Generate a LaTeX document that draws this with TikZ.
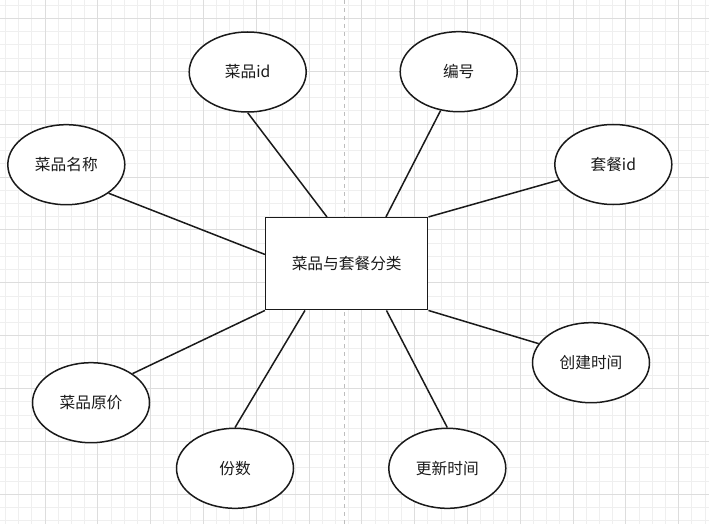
\documentclass[tikz,border=0pt]{standalone}
\usepackage{fontspec}
\setmainfont{Noto Sans CJK SC}
\usetikzlibrary{shapes.geometric,calc}
\definecolor{gridminor}{HTML}{EFEFEF}
\definecolor{gridmajor}{HTML}{DDDDDD}
\definecolor{pagebreak}{HTML}{BDBDBD}
\definecolor{ink}{HTML}{1A1A1A}
\tikzset{
  attr/.style={ellipse, draw=ink, line width=1.5pt, fill=white, minimum width=117pt, minimum height=80pt, inner sep=0pt, font=\fontsize{15.7pt}{19pt}\selectfont, text=ink},
  entity/.style={rectangle, draw=ink, line width=1.5pt, fill=white, minimum width=162pt, minimum height=92pt, inner sep=0pt, font=\fontsize{15.7pt}{19pt}\selectfont, text=ink},
  link/.style={draw=ink, line width=1.5pt}
}
\begin{document}
\begin{tikzpicture}[x=1pt,y=-1pt]
\useasboundingbox (0,0) rectangle (709,524);
\fill[white] (0,0) rectangle (709,524);
% grid
\begin{scope}
\clip (0,0) rectangle (709,524);
\foreach \i in {-4,...,56} {
  \draw[gridminor, line width=0.8pt] ({45+\i*13.2}, 0) -- ({45+\i*13.2}, 524);
}
\foreach \i in {-2,...,41} {
  \draw[gridminor, line width=0.8pt] (0, {18.3+\i*13.22}) -- (709, {18.3+\i*13.22});
}
\foreach \i in {-1,...,14} {
  \draw[gridmajor, line width=1pt] ({45+\i*52.8}, 0) -- ({45+\i*52.8}, 524);
}
\foreach \i in {-1,...,10} {
  \draw[gridmajor, line width=1pt] (0, {18.3+\i*52.9}) -- (709, {18.3+\i*52.9});
}
\draw[pagebreak, line width=1pt, dash pattern=on 4pt off 4pt] (344.5,0) -- (344.5,524);
\end{scope}
% nodes
\node[entity] (r) at (346.7,263.7) {菜品与套餐分类};
\node[attr] (a1) at (247.7,72) {菜品id};
\node[attr] (a2) at (458.7,71.7) {编号};
\node[attr] (a3) at (613.3,164.5) {套餐id};
\node[attr] (a4) at (66.3,164.7) {菜品名称};
\node[attr] (a5) at (591,362.7) {创建时间};
\node[attr] (a6) at (91,402.7) {菜品原价};
\node[attr] (a7) at (235,468.3) {份数};
\node[attr] (a8) at (447.3,468.3) {更新时间};
% connectors
\draw[link] (a1.south) -- ($(r.north west)+(62,0)$);
\draw[link] (a2.245) -- ($(r.north west)+(121,0)$);
\draw[link] (a3.196) -- (r.north east);
\draw[link] (a4.326) -- ($(r.north west)+(0,37.5)$);
\draw[link] (a5.160) -- (r.south east);
\draw[link] (a6.35) -- (r.south west);
\draw[link] (a7.north) -- ($(r.south west)+(40,0)$);
\draw[link] (a8.north) -- ($(r.south west)+(121.5,0)$);
\end{tikzpicture}
\end{document}
